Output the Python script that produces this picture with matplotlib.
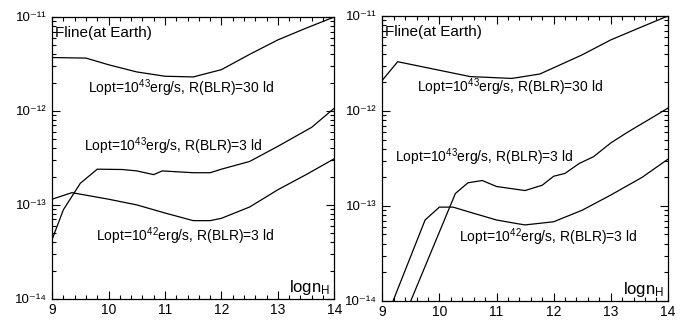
import matplotlib
matplotlib.use("Agg")
import numpy as np
import matplotlib.pyplot as plt
from matplotlib.ticker import FixedLocator, MultipleLocator, NullFormatter, FuncFormatter

plt.rcParams['font.family'] = ['Liberation Sans', 'DejaVu Sans']
plt.rcParams['mathtext.default'] = 'regular'
plt.rcParams['font.size'] = 10

# left panel: line flux at Earth vs log n_H
left_x30 = [9.0, 9.6, 10.0, 10.5, 11.0, 11.5, 12.0, 12.5, 13.0, 13.5, 14.0]
left_f30 = [3.7e-12, 3.65e-12, 3.1e-12, 2.6e-12, 2.34e-12, 2.3e-12, 2.75e-12,
            4.0e-12, 5.7e-12, 7.6e-12, 1.0e-11]

left_x3 = [9.0, 9.2, 9.5, 9.8, 10.25, 10.5, 10.8, 10.95, 11.5, 11.8, 12.0,
           12.5, 13.0, 13.6, 14.0]
left_f3 = [4.3e-14, 8.9e-14, 1.7e-13, 2.4e-13, 2.38e-13, 2.3e-13, 2.1e-13,
           2.3e-13, 2.2e-13, 2.2e-13, 2.4e-13, 2.9e-13, 4.2e-13, 6.7e-13,
           1.07e-12]

left_x42 = [9.0, 9.35, 10.0, 10.5, 11.0, 11.5, 11.8, 12.0, 12.5, 13.0, 13.5, 14.0]
left_f42 = [1.15e-13, 1.35e-13, 1.15e-13, 1.0e-13, 8.2e-14, 6.8e-14, 6.8e-14,
            7.2e-14, 9.5e-14, 1.45e-13, 2.1e-13, 3.1e-13]

# right panel
right_x30 = [9.0, 9.27, 10.54, 11.27, 11.76, 12.5, 13.0, 13.5, 14.0]
right_f30 = [2.1e-12, 3.3e-12, 2.3e-12, 2.2e-12, 2.45e-12, 3.9e-12, 5.6e-12,
             7.5e-12, 1.0e-11]

right_x3 = [9.5, 10.28, 10.5, 10.75, 11.0, 11.5, 11.8, 12.0, 12.2, 12.45,
            12.7, 13.0, 13.3, 13.65, 14.0]
right_f3 = [1.0e-14, 1.35e-13, 1.75e-13, 1.85e-13, 1.6e-13, 1.45e-13, 1.65e-13,
            2.05e-13, 2.2e-13, 2.8e-13, 3.3e-13, 4.6e-13, 6.0e-13, 8.0e-13,
            1.07e-12]

right_x42 = [9.19, 9.75, 10.0, 10.24, 10.5, 11.0, 11.36, 11.5, 12.0, 12.5,
             13.0, 13.55, 14.0]
right_f42 = [1.0e-14, 7.1e-14, 9.7e-14, 9.7e-14, 8.7e-14, 7.1e-14, 6.5e-14,
             6.3e-14, 6.8e-14, 9.0e-14, 1.3e-13, 2.0e-13, 3.1e-13]

decades = [1e-14, 1e-13, 1e-12, 1e-11]

lab30 = r'Lopt=10$^{43}$erg/s, R(BLR)=30 ld'
lab3 = r'Lopt=10$^{43}$erg/s, R(BLR)=3 ld'
lab42 = r'Lopt=10$^{42}$erg/s, R(BLR)=3 ld'

SUP = str.maketrans('-0123456789', '⁻⁰¹²³⁴⁵⁶⁷⁸⁹')


def pow10(v, pos):
    return '10' + str(int(round(np.log10(v)))).translate(SUP)


fig = plt.figure(figsize=(6.95, 3.2), dpi=100)
ax1 = fig.add_axes([0.075, 0.066, 0.406, 0.881])
ax2 = fig.add_axes([0.550, 0.060, 0.411, 0.890])

minor = [m * d for d in decades[:-1] for m in range(2, 10)]


def setup(ax):
    ax.set_yscale('log')
    ax.set_xlim(9, 14)
    ax.set_ylim(decades[0], decades[-1])
    ax.xaxis.set_major_locator(MultipleLocator(1))
    ax.xaxis.set_minor_locator(MultipleLocator(0.2))
    ax.yaxis.set_major_locator(FixedLocator(decades))
    ax.yaxis.set_minor_locator(FixedLocator(minor))
    ax.yaxis.set_major_formatter(FuncFormatter(pow10))
    ax.yaxis.set_minor_formatter(NullFormatter())
    ax.tick_params(which='both', direction='in', top=True, right=True,
                   width=0.8)
    ax.tick_params(axis='x', labelsize=10, pad=3)
    ax.tick_params(axis='y', labelsize=9.5, pad=4)
    ax.tick_params(which='major', length=6)
    ax.tick_params(which='minor', length=3)
    for s in ax.spines.values():
        s.set_linewidth(0.9)
    ax.text(0.01, 0.93, 'Fline(at Earth)', transform=ax.transAxes, fontsize=11)
    ax.text(0.985, 0.005, r'logn$_{H}$', transform=ax.transAxes, fontsize=12,
            ha='right', va='bottom')


setup(ax1)
ax1.plot(left_x30, left_f30, color='black', lw=0.9)
ax1.plot(left_x3, left_f3, color='black', lw=0.9)
ax1.plot(left_x42, left_f42, color='black', lw=0.9)
ax1.text(11.29, 10**-11.755, lab30, ha='center', va='center', fontsize=10)
ax1.text(11.15, 10**-12.38, lab3, ha='center', va='center', fontsize=10)
ax1.text(11.36, 10**-13.33, lab42, ha='center', va='center', fontsize=10)

setup(ax2)
ax2.plot(right_x30, right_f30, color='black', lw=0.9)
ax2.plot(right_x3, right_f3, color='black', lw=0.9)
ax2.plot(right_x42, right_f42, color='black', lw=0.9)
ax2.text(11.24, 10**-11.755, lab30, ha='center', va='center', fontsize=10)
ax2.text(10.78, 10**-12.49, lab3, ha='center', va='center', fontsize=10)
ax2.text(11.9, 10**-13.33, lab42, ha='center', va='center', fontsize=10)

fig.savefig('out.png', dpi=100)
